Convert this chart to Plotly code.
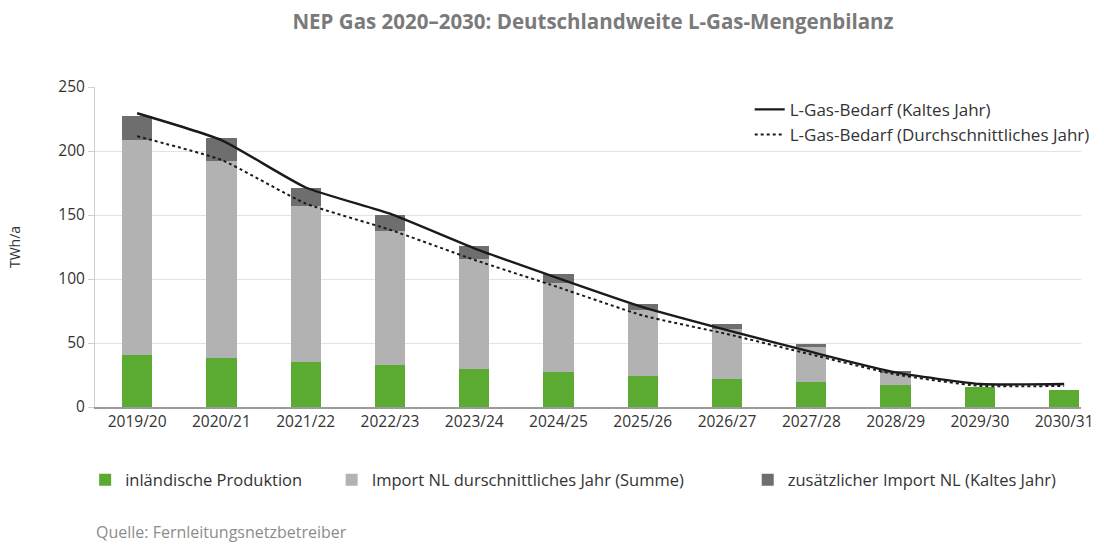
import plotly.graph_objects as go

# Jahre (Gasjahre)
jahre = ["2019/20", "2020/21", "2021/22", "2022/23", "2023/24", "2024/25",
         "2025/26", "2026/27", "2027/28", "2028/29", "2029/30", "2030/31"]

# TWh/a
produktion = [41, 38, 35.5, 33, 29.5, 27, 24.5, 22, 19.5, 17.5, 15.5, 13]
import_nl_avg = [167.5, 154.5, 121.5, 104.5, 86, 69.5, 51, 39, 27, 9, 0, 0]
import_nl_kalt = [18.5, 17.5, 14, 12.5, 10.5, 7.5, 5, 3.5, 2.5, 2, 0, 0]
bedarf_kalt = [229.5, 208.5, 171.5, 151, 124, 100.5, 78, 60, 43, 27, 18, 18]
bedarf_avg = [211.5, 193, 159, 138.5, 115, 93.5, 71.5, 57, 41, 25.5, 16.5, 16.5]

GREEN = "#5BAA32"
LIGHT = "#B2B2B2"
DARK = "#6E6E6E"
FONT = "Open Sans"

fig = go.Figure()

fig.add_trace(go.Bar(x=jahre, y=produktion, name="inländische Produktion",
                     marker=dict(color=GREEN, line=dict(width=0)),
                     width=0.36, legend="legend2"))
fig.add_trace(go.Bar(x=jahre, y=import_nl_avg, name="Import NL durschnittliches Jahr (Summe)",
                     marker=dict(color=LIGHT, line=dict(width=0)),
                     width=0.36, legend="legend3"))
fig.add_trace(go.Bar(x=jahre, y=import_nl_kalt, name="zusätzlicher Import NL (Kaltes Jahr)",
                     marker=dict(color=DARK, line=dict(width=0)),
                     width=0.36, legend="legend4"))

fig.add_trace(go.Scatter(x=jahre, y=bedarf_kalt, mode="lines",
                         name="L-Gas-Bedarf (Kaltes Jahr)",
                         line=dict(color="#1a1a1a", width=2.4, shape="spline", smoothing=0.5),
                         legend="legend"))
fig.add_trace(go.Scatter(x=jahre, y=bedarf_avg, mode="lines",
                         name="L-Gas-Bedarf (Durchschnittliches Jahr)",
                         line=dict(color="#1a1a1a", width=2, dash="dot", shape="spline", smoothing=0.5),
                         legend="legend"))

fig.add_annotation(text="Quelle: Fernleitungsnetzbetreiber", xref="paper", yref="paper",
                   x=-0.001, y=(407 - 532) / 320, xanchor="left", yanchor="middle",
                   showarrow=False, font=dict(family=FONT, size=16, color="#8c8c8c"))

legend_bottom = dict(orientation="h", bgcolor="rgba(0,0,0,0)", yanchor="middle",
                     y=(407 - 480) / 320, xanchor="left",
                     font=dict(family=FONT, size=16.5, color="#333333"))

fig.update_layout(
    width=1104, height=545,
    margin=dict(l=95, r=9, t=87, b=138),
    plot_bgcolor="white", paper_bgcolor="white",
    barmode="stack",
    font=dict(family=FONT, size=15, color="#333333"),
    title=dict(text="<b>NEP Gas 2020–2030: Deutschlandweite L-Gas-Mengenbilanz</b>",
               x=593 / 1104, xanchor="center", y=1 - 22 / 545, yanchor="middle",
               font=dict(family=FONT, size=20.5, color="#7a7a7a")),
    xaxis=dict(type="category", range=[-0.5, 11.2], showgrid=False,
               showline=True, linecolor="#9a9a9a", linewidth=1.5,
               ticks="", tickfont=dict(size=15.5, color="#333333")),
    yaxis=dict(range=[0, 250], dtick=50, showgrid=True, gridcolor="#e3e3e3", gridwidth=1,
               showline=True, linecolor="#d0d0d0", linewidth=1,
               ticks="outside", ticklen=6, tickcolor="#d0d0d0",
               zeroline=False, tickfont=dict(size=15.5, color="#333333"),
               title=dict(text="TWh/a", font=dict(size=14, color="#333333"), standoff=34)),
    legend=dict(x=0.664, xanchor="left", y=0.985, yanchor="top",
                bgcolor="rgba(0,0,0,0)", tracegroupgap=0,
                font=dict(size=17, color="#333333")),
    legend2=dict(legend_bottom, x=-0.01),
    legend3=dict(legend_bottom, x=0.24),
    legend4=dict(legend_bottom, x=0.662),
)

fig.update_traces(cliponaxis=False, selector=dict(type="scatter"))

fig.write_html("out.html", config={"displayModeBar": False},
               post_script="document.body.style.margin='0';")
